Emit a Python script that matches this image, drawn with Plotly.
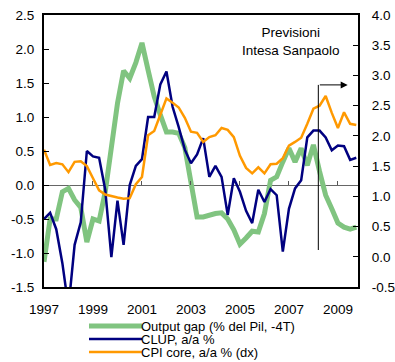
import plotly.graph_objects as go

# Quarterly observations 1997Q1 - 2009Q4
years = [1997 + q / 4 for q in range(52)]

output_gap = [
    -1.13, -0.50, -0.50, -0.10, -0.05, -0.22, -0.33, -0.84,
    -0.50, -0.53, -0.10, 0.60, 1.20, 1.68, 1.57, 1.80,
    2.09, 1.69, 1.30, 1.03, 0.78, 0.78, 0.76, 0.55,
    0.05, -0.47, -0.47, -0.44, -0.42, -0.41, -0.50, -0.66,
    -0.87, -0.78, -0.68, -0.69, -0.42, 0.07, 0.12, 0.34,
    0.54, 0.34, 0.54, 0.29, 0.59, 0.20, -0.15, -0.35,
    -0.56, -0.62, -0.65, -0.62,
]

clup = [
    -0.50, -0.41, -0.65, -1.15, -1.80, -0.88, -0.55, 0.50,
    0.42, 0.40, -0.07, -1.06, -0.23, -0.88, 0.00, 0.28,
    0.38, 1.00, 1.00, 1.48, 1.67, 1.15, 0.85, 0.52,
    0.32, 0.45, 0.69, 0.12, 0.28, 0.12, -0.44, 0.10,
    -0.10, -0.38, -0.56, -0.07, -0.25, -0.06, -0.15, -0.98,
    -0.35, -0.05, 0.07, 0.70, 0.80, 0.80, 0.70, 0.51,
    0.58, 0.57, 0.37, 0.40,
]

cpi_core = [
    1.77, 1.52, 1.55, 1.53, 1.40, 1.57, 1.58, 1.50,
    1.30, 1.10, 1.03, 1.00, 0.98, 0.96, 0.97, 1.20,
    1.32, 2.01, 2.08, 2.35, 2.62, 2.55, 2.47, 2.30,
    2.07, 2.05, 1.90, 1.98, 2.01, 2.13, 2.10, 1.98,
    1.67, 1.47, 1.38, 1.48, 1.38, 1.53, 1.54, 1.63,
    1.84, 1.90, 1.97, 2.20, 2.45, 2.50, 2.66, 2.38,
    2.13, 2.39, 2.20, 2.18,
]

year_ticks = [1997, 1999, 2001, 2003, 2005, 2007, 2009]
left_ticks = [-1.5, -1.0, -0.5, 0.0, 0.5, 1.0, 1.5, 2.0, 2.5]
right_ticks = [-0.5, 0.0, 0.5, 1.0, 1.5, 2.0, 2.5, 3.0, 3.5, 4.0]
forecast_start = 2008.2

series_names = ["Output gap (% del Pil, -4T)", "CLUP, a/a %", "CPI core, a/a % (dx)"]
GREEN, NAVY, ORANGE = "#80C480", "#000080", "#FF9900"
FONT = "Liberation Sans, Arial, sans-serif"

fig = go.Figure()
fig.add_trace(go.Scatter(x=years, y=output_gap, mode="lines", name=series_names[0],
                         line=dict(color=GREEN, width=5), showlegend=False))
fig.add_trace(go.Scatter(x=years, y=clup, mode="lines", name=series_names[1],
                         line=dict(color=NAVY, width=2.5), showlegend=False))
fig.add_trace(go.Scatter(x=years, y=cpi_core, mode="lines", name=series_names[2],
                         line=dict(color=ORANGE, width=2.5), yaxis="y2", showlegend=False))
# carrier for the tick marks drawn along the zero line
fig.add_trace(go.Scatter(x=[None], y=[None], xaxis="x2", showlegend=False, hoverinfo="skip"))

xr = [1997, 2009.82]
fig.update_layout(
    width=395, height=362,
    margin=dict(l=44, r=37, t=15, b=75, autoexpand=False),
    paper_bgcolor="white", plot_bgcolor="white",
    font=dict(family=FONT, size=13, color="black"),
    xaxis=dict(range=xr, tickvals=year_ticks, ticktext=[str(y) for y in year_ticks],
               showline=True, linecolor="black", linewidth=2, mirror=True,
               ticks="", showgrid=False, zeroline=False, ticklabelstandoff=9,
               automargin=False, tickfont=dict(size=13.5)),
    xaxis2=dict(range=xr, overlaying="x", anchor="free", position=0.375,
                tickvals=year_ticks, ticks="inside", ticklen=4, tickcolor="#555555",
                tickwidth=1, showticklabels=False, showline=False, showgrid=False,
                zeroline=False, automargin=False),
    yaxis=dict(range=[-1.5, 2.5], tickvals=left_ticks,
               ticktext=[f"{v:.1f}" for v in left_ticks],
               showline=True, linecolor="black", linewidth=2,
               ticks="inside", ticklen=5, tickcolor="black", showgrid=False,
               zeroline=True, zerolinecolor="#666666", zerolinewidth=1,
               ticklabelstandoff=5, automargin=False, tickfont=dict(size=13.5)),
    yaxis2=dict(range=[-0.5, 4.0], tickvals=right_ticks,
                ticktext=[f"{v:.1f}" for v in right_ticks],
                overlaying="y", side="right",
                showline=True, linecolor="black", linewidth=2,
                ticks="inside", ticklen=5, tickcolor="black", showgrid=False,
                zeroline=False, ticklabelstandoff=9, automargin=False,
                tickfont=dict(size=13.5)),
    showlegend=False,
)

# forecast marker: vertical line with arrow pointing right
fig.add_shape(type="line", xref="x", yref="paper", x0=forecast_start, x1=forecast_start,
              y0=0.136, y1=0.743, line=dict(color="black", width=1))
fig.add_annotation(x=2009.4, y=0.743, xref="x", yref="paper",
                   ax=forecast_start, ay=0, axref="x", ayref="pixel",
                   showarrow=True, arrowhead=2, arrowsize=1.4, arrowwidth=1,
                   arrowcolor="black", text="")
fig.add_annotation(x=0.787, y=0.904, xref="paper", yref="paper",
                   xanchor="center", yanchor="middle",
                   text="Previsioni<br>Intesa Sanpaolo", showarrow=False,
                   font=dict(size=13.5), align="center")

# legend drawn below the plot
legend_rows = [(series_names[0], GREEN, 5, 326), (series_names[1], NAVY, 2.5, 339),
               (series_names[2], ORANGE, 2.5, 352)]
for label, color, w, py in legend_rows:
    yp = (287 - py) / 272
    fig.add_shape(type="line", xref="paper", yref="paper",
                  x0=(89 - 44) / 314, x1=(142 - 44) / 314, y0=yp, y1=yp,
                  line=dict(color=color, width=w))
    fig.add_annotation(x=(142 - 44) / 314, y=yp, xref="paper", yref="paper",
                       text=label, showarrow=False, xanchor="left", yanchor="middle",
                       xshift=-2, borderpad=0, font=dict(size=13))

fig.write_html("out.html")
